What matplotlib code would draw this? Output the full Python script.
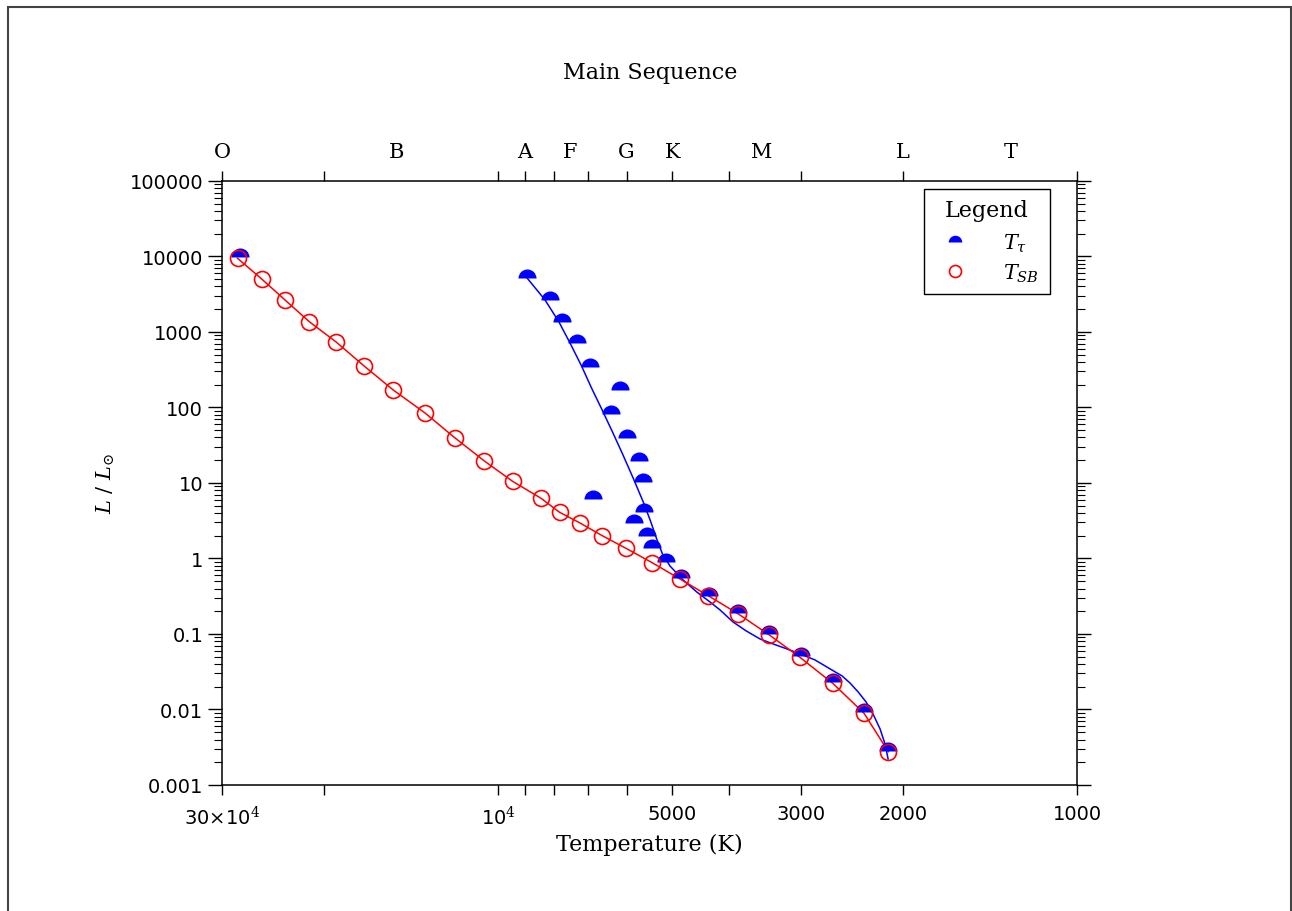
import numpy as np
import matplotlib
matplotlib.use("Agg")
import matplotlib.pyplot as plt
from matplotlib.patches import Rectangle
from matplotlib.ticker import FixedLocator, NullLocator, LogLocator, NullFormatter

plt.rcParams["mathtext.fontset"] = "dejavuserif"

# T_SB (red open circles, joined)
t_sb = [28200, 25620, 23350, 21200, 19050, 17050, 15190, 13380, 11870, 10560,
        9440, 8433, 7834, 7222, 6607, 6012, 5420, 4852, 4335, 3846,
        3401, 3010, 2642, 2333, 2118]
l_sb = [9460, 5035, 2655, 1368, 736, 355, 171, 84.6, 39.4, 19.5,
        10.5, 6.27, 4.09, 2.95, 2.00, 1.36, 0.879, 0.535, 0.321, 0.184,
        0.097, 0.049, 0.0222, 0.0089, 0.00276]

# T_tau (blue half discs)
t_tau = [27930, 8915, 8125, 7748, 7317, 6939, 6166, 6390, 5996, 5703,
         5615, 6849, 5591, 5818, 5538, 5430, 5129, 4838, 4317, 3846,
         3401, 3001, 2636, 2330, 2118]
l_tau = [9850, 5144, 2654, 1369, 708, 347, 170.6, 82.8, 39.4, 19.4,
         10.3, 6.14, 4.13, 2.93, 1.99, 1.36, 0.891, 0.552, 0.321, 0.19,
         0.1, 0.0507, 0.0233, 0.00935, 0.00282]

# blue fit curve
t_fit = [8915, 8299, 7852, 7499, 7178, 6898, 6625, 6345, 6086, 5836,
         5615, 5456, 5323, 5202, 5049, 4813, 4539, 4305, 4137, 3928,
         3730, 3529, 3351, 3169, 3009, 2836, 2640, 2546, 2467, 2389,
         2314, 2251, 2189, 2146, 2120]
l_fit = [5192, 2654, 1357, 693, 355, 181, 95.5, 47.3, 23.5, 11.3,
         5.6, 3.14, 1.81, 1.148, 0.796, 0.535, 0.36, 0.265, 0.208, 0.144,
         0.110, 0.0859, 0.0738, 0.0633, 0.0543, 0.0453, 0.0327, 0.0278, 0.0224, 0.0171,
         0.01256, 0.00871, 0.00552, 0.00349, 0.00221]

t_ticks = [30000, 20000, 10000, 9000, 8000, 7000, 6000, 5000, 4000, 3000, 2000, 1000]
t_labels = {30000: r"30$\times$10$^4$", 10000: r"10$^4$", 5000: "5000",
            3000: "3000", 2000: "2000", 1000: "1000"}
y_ticks = [0.001, 0.01, 0.1, 1, 10, 100, 1000, 10000, 100000]
y_labels = ["0.001", "0.01", "0.1", "1", "10", "100", "1000", "10000", "100000"]

spec_classes = ["O", "B", "A", "F", "G", "K", "M", "L", "T"]
spec_temps = [30000, 15000, 9000, 7500, 6000, 5000, 3500, 2000, 1300]

serif = "DejaVu Serif"

fig = plt.figure(figsize=(12.92, 9.12), dpi=100)
ax = fig.add_axes([0.1718, 0.1382, 0.6618, 0.6623])

ax.set_xscale("log")
ax.set_yscale("log")
ax.set_xlim(30000, 1000)
ax.set_ylim(0.001, 100000)

ax.plot(t_fit, l_fit, color="blue", lw=1.1, zorder=2)
ax.plot(t_sb, l_sb, color="red", lw=1.1, zorder=2)
ax.plot(t_tau, l_tau, ls="none", marker="o", ms=13, fillstyle="top",
        markerfacecolor="blue", markerfacecoloralt="none", markeredgewidth=0,
        zorder=3, label=r"$T_\tau$")
ax.plot(t_sb, l_sb, ls="none", marker="o", ms=11.5, markerfacecolor="none",
        markeredgecolor="red", markeredgewidth=1.2, zorder=4, label=r"$T_{SB}$")

# x axis
ax.xaxis.set_major_locator(FixedLocator(t_ticks))
ax.xaxis.set_minor_locator(NullLocator())
ax.set_xticklabels([t_labels.get(t, "") for t in t_ticks])
ax.tick_params(axis="x", which="major", direction="out", length=7, width=1,
               labelsize=14, top=True, pad=7)

# y axis
ax.yaxis.set_major_locator(FixedLocator(y_ticks))
ax.set_yticklabels(y_labels)
ax.yaxis.set_minor_locator(LogLocator(base=10, subs=np.arange(2, 10)))
ax.yaxis.set_minor_formatter(NullFormatter())
ax.tick_params(axis="y", which="major", direction="out", length=10, width=1,
               labelsize=14, right=True)
ax.tick_params(axis="y", which="minor", direction="out", length=6, width=0.8,
               right=True)

for s in ax.spines.values():
    s.set_linewidth(1.1)

# spectral classes on top
for name, t in zip(spec_classes, spec_temps):
    ax.text(t, 1.033, name, transform=ax.get_xaxis_transform(), ha="center",
            va="bottom", fontsize=15, family=serif)

ax.set_xlabel("Temperature (K)", family=serif, fontsize=16, labelpad=4)
ax.set_ylabel(r"$L\ /\ L_{\odot}$", fontsize=15, labelpad=9)
fig.text(0.503, 0.92, "Main Sequence", ha="center", va="center",
         family=serif, fontsize=16)

leg = ax.legend(loc="upper right", bbox_to_anchor=(0.968, 0.987), borderaxespad=0,
                title="Legend", fancybox=False, edgecolor="black", framealpha=1,
                markerscale=0.75, handletextpad=1.3, fontsize=15, borderpad=0.5,
                labelspacing=0.35, handlelength=2.0)
leg.get_title().set_family(serif)
leg.get_title().set_fontsize(16)
leg._legend_box.sep = 8
leg.get_frame().set_linewidth(1.0)

# outer frame of the page
fig.patches.append(Rectangle((8 / 1292, -0.05), (1291 - 8) / 1292, 1 - 8 / 912 + 0.05,
                             transform=fig.transFigure, fill=False,
                             edgecolor="#444444", lw=1.5))

fig.savefig("out.png", dpi=100)
